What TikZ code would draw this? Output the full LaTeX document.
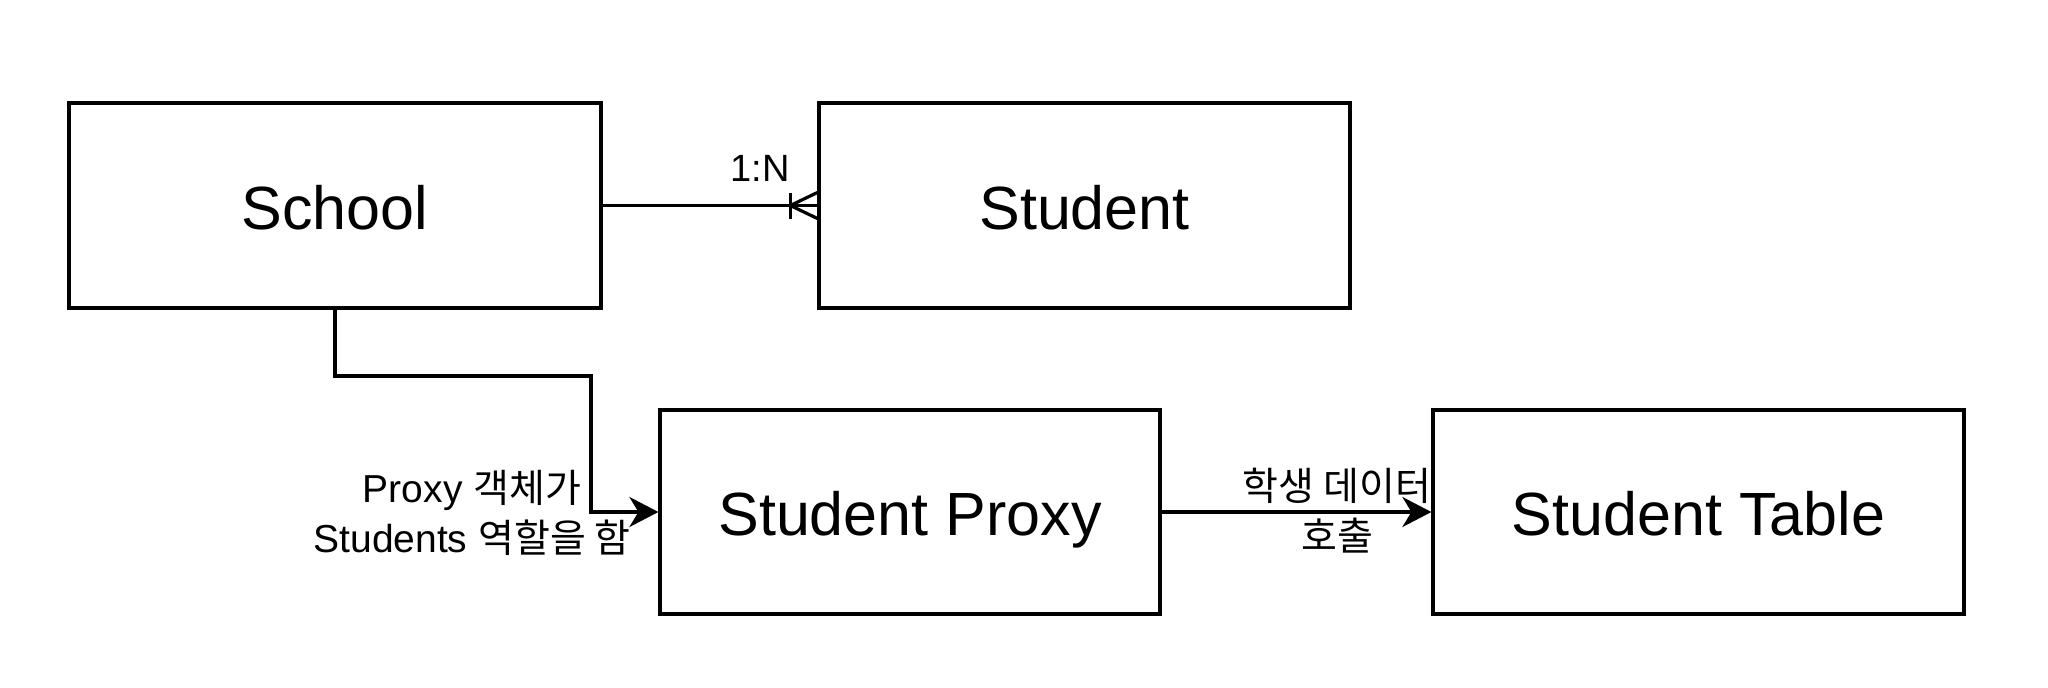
\documentclass[tikz,border=0pt]{standalone}
\usepackage{fontspec}
\setmainfont{Liberation Sans}
\newfontfamily\kr{Noto Sans CJK KR}
\usetikzlibrary{arrows.meta}
\tikzset{
  ent/.style={draw=black, line width=3.2pt, fill=white, inner sep=0pt, text height=47pt, text depth=0pt, font=\fontsize{61}{72}\selectfont},
  conn/.style={draw=black, line width=3.2pt},
  arr/.style={conn, -{Stealth[length=29pt, width=30pt, inset=9pt]}},
  lbl/.style={inner sep=0pt, align=center, font=\fontsize{39}{50}\selectfont},
}
\begin{document}
\begin{tikzpicture}[x=1pt,y=-1pt]
\useasboundingbox[fill=white] (0,0) rectangle (2048,688);
\node[ent, minimum width=532pt, minimum height=205pt] (school) at (335,205.5) {School};
\node[ent, minimum width=531pt, minimum height=205pt] (student) at (1084.5,205.5) {Student};
\node[ent, minimum width=500pt, minimum height=204pt] (proxy) at (910,512) {Student Proxy};
\node[ent, minimum width=531pt, minimum height=204pt] (table) at (1698.5,512) {Student Table};

% School -> Student (1:N, crow's foot)
\draw[conn] (school.east) -- (student.west);
\draw[conn] ([xshift=-27pt,yshift=13pt]student.west) -- ([xshift=-27pt,yshift=-13pt]student.west);
\draw[conn] ([yshift=13pt]student.west) -- ([xshift=-27pt]student.west) -- ([yshift=-13pt]student.west);
\node[inner sep=0pt, anchor=base east, font=\fontsize{38}{46}\selectfont] (lab1n) at (790,181) {1:N};

% School -> Student Proxy
\coordinate (b1) at (335,376);
\coordinate (b2) at (591,376);
\draw[arr] (school.south) -- (b1) -- (b2) |- (proxy.west);
\node[lbl] (labproxy) at (472,513) {Proxy {\kr 객체가}\\Students {\kr 역할을 함}};

% Student Proxy -> Student Table
\draw[arr] (proxy.east) -- (table.west);
\node[lbl] (labcall) at (1337,511) {{\kr 학생 데이터}\\{\kr 호출}};
\end{tikzpicture}
\end{document}
